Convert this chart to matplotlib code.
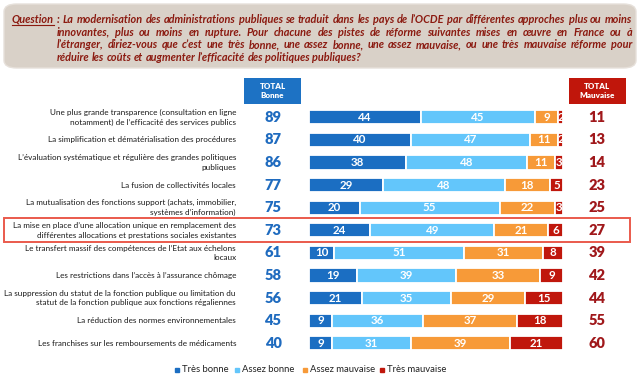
import matplotlib
matplotlib.use("Agg")
import matplotlib.pyplot as plt
from matplotlib import font_manager
from matplotlib.patches import FancyBboxPatch, Rectangle
from matplotlib.lines import Line2D
import matplotlib.transforms as mtrans

# ---------------- data ----------------
categories = [
    "Une plus grande transparence (consultation en ligne\nnotamment) de l’efficacité des services publics",
    "La simplification et dématérialisation des procédures",
    "L’évaluation systématique et régulière des grandes politiques\npubliques",
    "La fusion de collectivités locales",
    "La mutualisation des fonctions support (achats, immobilier,\nsystèmes d’information)",
    "La mise en place d’une allocation unique en remplacement des\ndifférentes allocations et prestations sociales existantes",
    "Le transfert massif des compétences de l’Etat aux échelons\nlocaux",
    "Les restrictions dans l’accès à l’assurance chômage",
    "La suppression du statut de la fonction publique ou limitation du\nstatut de la fonction publique aux fonctions régaliennes",
    "La réduction des normes environnementales",
    "Les franchises sur les remboursements de médicaments",
]
tres_bonne = [44, 40, 38, 29, 20, 24, 10, 19, 21, 9, 9]
assez_bonne = [45, 47, 48, 48, 55, 49, 51, 39, 35, 36, 31]
assez_mauvaise = [9, 11, 11, 18, 22, 21, 31, 33, 29, 37, 39]
tres_mauvaise = [2, 2, 3, 5, 3, 6, 8, 9, 15, 18, 21]
total_bonne = [89, 87, 86, 77, 75, 73, 61, 58, 56, 45, 40]
total_mauvaise = [11, 13, 14, 23, 25, 27, 39, 42, 44, 55, 60]
series_names = ["Très bonne", "Assez bonne", "Assez mauvaise", "Très mauvaise"]
highlight_index = 5

question_label = "Question"
question_lines = [
    ": La modernisation des administrations publiques se traduit dans les pays de l’OCDE par différentes approches plus ou moins",
    "innovantes, plus ou moins en rupture. Pour chacune des pistes de réforme suivantes mises en œuvre en France ou à",
    "l’étranger, diriez-vous que c’est une très bonne, une assez bonne, une assez mauvaise, ou une très mauvaise réforme pour",
    "réduire les coûts et augmenter l’efficacité des politiques publiques?",
]

# ---------------- style ----------------
colors = ["#1b6ec2", "#63c6fb", "#f79a38", "#c0170c"]
col_tb_text = "#1f6bbf"
col_tm_text = "#a0181b"
q_color = "#8b1a10"

names = {f.name for f in font_manager.fontManager.ttflist}
base = "Lato" if "Lato" in names else ("Roboto" if "Roboto" in names else "Liberation Sans")
FAM = [base, "DejaVu Sans"]
plt.rcParams["font.family"] = FAM

W, H = 640, 379
fig = plt.figure(figsize=(W / 100, H / 100), dpi=100)
r = fig.canvas.get_renderer()

def fx(x):
    return x / W

def fy(y):
    return 1 - y / H

def width_of(s, **kw):
    t = fig.text(0, 0, s, **kw)
    w = t.get_window_extent(r).width
    t.remove()
    return w

# fit label font size so the widest label line spans ~228 px
longest = max((ln for c in categories for ln in c.split("\n")), key=lambda s: width_of(s, fontsize=10))
lab_fs = min(7.2, 10 * 228 / width_of(longest, fontsize=10))

# bars axes: full figure height, rows mapped so row0 at 117.3 px, spacing 22.6 px
row0, step = 117.3, 22.6
ax = fig.add_axes([fx(309), 0, fx(563) - fx(309), 1])
ax.set_xlim(0, 100)
ax.set_ylim((H - row0) / step, -row0 / step)
ax.axis("off")

n = len(categories)
ys = list(range(n))
series = [tres_bonne, assez_bonne, assez_mauvaise, tres_mauvaise]
left = [0] * n
for s, vals in enumerate(series):
    bars = ax.barh(ys, vals, left=left, height=0.62, color=colors[s],
                   edgecolor="white", linewidth=1.3)
    for i, (b, v) in enumerate(zip(bars, vals)):
        t = ax.text(left[i] + v / 2, ys[i], str(v), ha="center", va="center",
                    color="white", fontsize=8.3, fontweight="bold")
        t.set_clip_path(b)
    left = [l + v for l, v in zip(left, vals)]

tr_fig_data = mtrans.blended_transform_factory(fig.transFigure, ax.transData)

for i, lab in enumerate(categories):
    fig.text(fx(236), ys[i], lab, transform=tr_fig_data, ha="right", va="center",
             multialignment="right", fontsize=lab_fs, color="#1a1a1a", linespacing=1.45)
    fig.text(fx(273), ys[i], str(total_bonne[i]), transform=tr_fig_data, ha="center",
             va="center", fontsize=10.5, fontweight="heavy", color=col_tb_text)
    fig.text(fx(597), ys[i], str(total_mauvaise[i]), transform=tr_fig_data, ha="center",
             va="center", fontsize=10.5, fontweight="heavy", color=col_tm_text)

# highlight rectangle
hy = highlight_index
rect = Rectangle((fx(4), hy - 0.53), fx(630) - fx(4), 1.04, transform=tr_fig_data,
                 fill=False, edgecolor="#ea5a4c", linewidth=1.4, clip_on=False)
fig.add_artist(rect)

# header boxes
for x0, x1, c, txt in [(244, 301, "#1d72c4", "TOTAL\nBonne"), (569, 626, "#c0160b", "TOTAL\nMauvaise")]:
    fig.add_artist(Rectangle((fx(x0), fy(104)), fx(x1) - fx(x0), fy(78) - fy(104),
                             transform=fig.transFigure, facecolor=c, edgecolor="none"))
    fig.text(fx((x0 + x1) / 2), fy(91), txt, ha="center", va="center", color="white",
             fontsize=5.8, fontweight="heavy", linespacing=1.3)

# question box
fig.add_artist(FancyBboxPatch((fx(4), fy(68)), fx(636) - fx(4), fy(4) - fy(68),
                              boxstyle="round,pad=0,rounding_size=0.02",
                              transform=fig.transFigure, facecolor="#d9d1c8",
                              edgecolor="#e6e0da", linewidth=1))

qkw0 = dict(fontweight="bold", fontstyle="italic", color=q_color, va="baseline")
q_w10 = width_of(question_label + " ", fontsize=10, **qkw0)
avail = [632 - 12, 632 - 57, 632 - 57]
ratio = max((width_of(question_lines[0], fontsize=10, **qkw0) + q_w10) / avail[0],
            width_of(question_lines[1], fontsize=10, **qkw0) / avail[1],
            width_of(question_lines[2], fontsize=10, **qkw0) / avail[2])
q_fs = min(8.8, 10 / ratio * 0.98)
qkw = dict(fontsize=q_fs, **qkw0)
space_w = width_of("a a", **qkw) - width_of("aa", **qkw)

line_y = [23, 35.6, 48.2, 60.8]
for li, line in enumerate(question_lines):
    words = line.split(" ")
    if li == 0:
        words = [question_label] + words
        x_start = 12
    else:
        x_start = 57
    widths = [width_of(w, **qkw) for w in words]
    if li < len(question_lines) - 1:
        gap = (632 - x_start - sum(widths)) / (len(words) - 1)
    else:
        gap = space_w
    x = x_start
    for w, wd in zip(words, widths):
        fig.text(fx(x), fy(line_y[li]), w, **qkw)
        if w == question_label:
            fig.add_artist(Line2D([fx(x), fx(x + wd)], [fy(line_y[li] + 1.8)] * 2,
                                  transform=fig.transFigure, color=q_color, linewidth=0.8))
        x += wd + gap

# legend
leg_x = [177, 237, 305, 382]
for name, c, lx in zip(series_names, colors, leg_x):
    fig.add_artist(Line2D([fx(lx)], [fy(370)], marker="s", markersize=2.6, color=c,
                          linestyle="none", transform=fig.transFigure))
    fig.text(fx(lx + 5), fy(370), name, ha="left", va="center", fontsize=6.8, color="#222222")

fig.savefig("out.png", dpi=100)
